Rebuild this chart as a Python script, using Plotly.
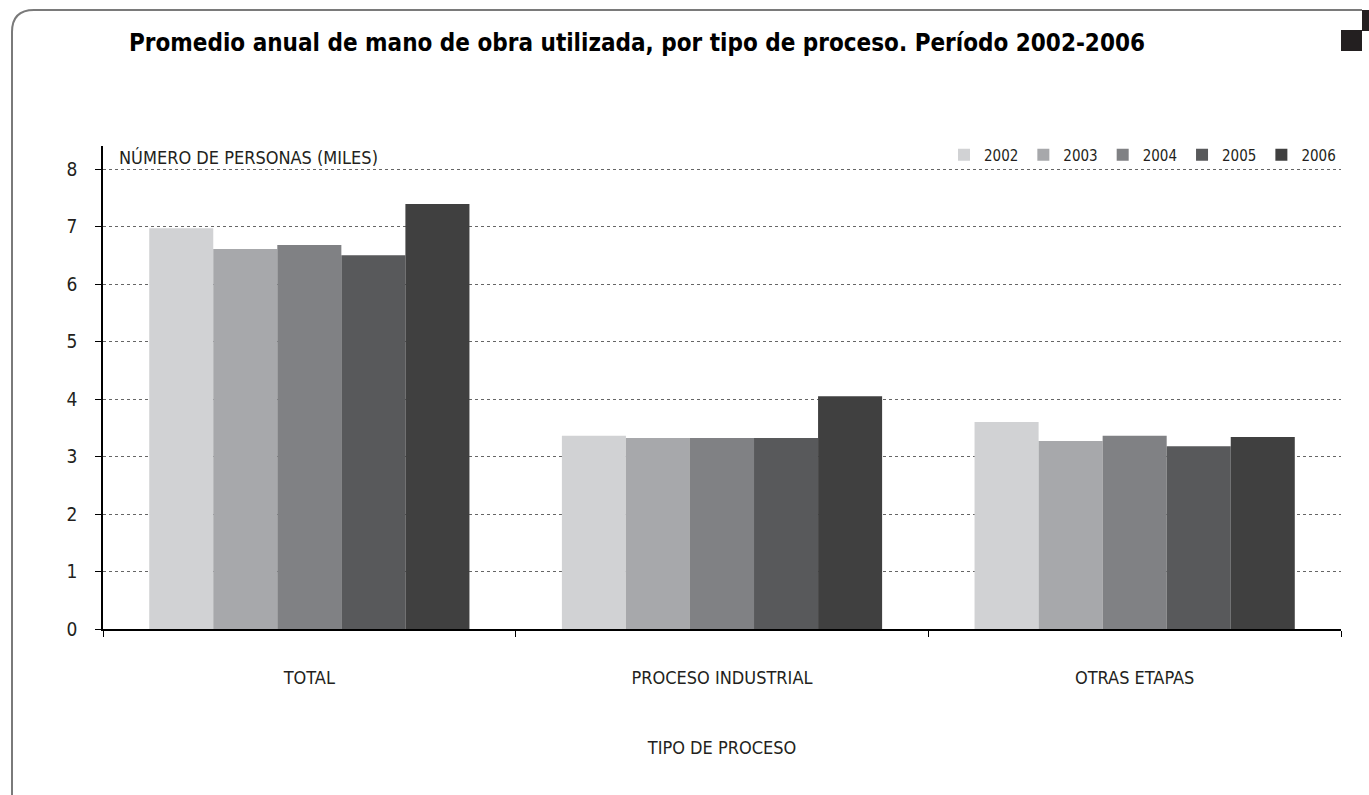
import plotly.graph_objects as go

# data
categories = ["TOTAL", "PROCESO INDUSTRIAL", "OTRAS ETAPAS"]
years = ["2002", "2003", "2004", "2005", "2006"]
values = {
    "2002": [6.97, 3.36, 3.60],
    "2003": [6.61, 3.32, 3.27],
    "2004": [6.68, 3.32, 3.36],
    "2005": [6.50, 3.32, 3.18],
    "2006": [7.39, 4.05, 3.34],
}
colors = ["#d1d2d4", "#a7a8ab", "#808184", "#58595b", "#404040"]

FONT = "Liberation Sans Narrow, DejaVu Sans Condensed, Arial Narrow, sans-serif"
W, H = 1369, 795
L, R, T, B = 103, 28, 146, 166


# page pixel -> paper coords (for the frame decoration)
def px(x):
    return (x - L) / (W - L - R)


def py(y):
    return (H - B - y) / (H - T - B)


fig = go.Figure()
for yr, col in zip(years, colors):
    fig.add_trace(go.Bar(name=yr, x=categories, y=values[yr], marker_color=col,
                         marker_line_width=0))

frame = (f"M {px(12)},{py(795)} L {px(12)},{py(32)} "
         f"Q {px(12)},{py(10)} {px(34)},{py(10)} L {px(1362)},{py(10)}")

fig.update_layout(
    width=W, height=H,
    margin=dict(l=L, r=R, t=T, b=B),
    paper_bgcolor="white", plot_bgcolor="white",
    barmode="group", bargap=0.224, bargroupgap=0,
    font=dict(family=FONT, size=18, color="#231f20"),
    title=dict(text="<b>Promedio anual de mano de obra utilizada, por tipo de proceso. Período 2002-2006</b>",
               x=637 / W, xref="container", xanchor="center", y=1 - 43 / H, yanchor="middle",
               font=dict(family=FONT, size=24, color="black")),
    legend=dict(orientation="h", x=1, xanchor="right", y=py(155), yanchor="middle",
                font=dict(size=15), traceorder="normal", itemwidth=30,
                bgcolor="rgba(0,0,0,0)"),
    showlegend=True,
    xaxis=dict(showline=True, linecolor="black", linewidth=1.5,
               ticks="outside", tickson="boundaries", ticklen=6, tickcolor="black",
               ticklabelstandoff=32,
               title=dict(text="TIPO DE PROCESO", standoff=54, font=dict(size=18))),
    yaxis=dict(range=[0, 8.4], dtick=1, showline=True, linecolor="black", linewidth=1.5,
               ticks="outside", ticklen=6, tickcolor="black", ticklabelstandoff=14,
               tickfont=dict(size=19),
               showgrid=True, gridcolor="#666", griddash="dot", gridwidth=1,
               zeroline=False),
    annotations=[dict(text="NÚMERO DE PERSONAS (MILES)", xref="paper", yref="paper",
                      x=px(117), y=py(157), xanchor="left", yanchor="middle",
                      showarrow=False, font=dict(size=18))],
    shapes=[
        dict(type="path", path=frame, xref="paper", yref="paper",
             line=dict(color="#7a7a7a", width=2), layer="above"),
        dict(type="rect", xref="paper", yref="paper", x0=px(1341), x1=px(1362),
             y0=py(51), y1=py(30), fillcolor="#231f20", line_width=0),
        dict(type="rect", xref="paper", yref="paper", x0=px(1362), x1=px(1369),
             y0=py(31), y1=py(10), fillcolor="#231f20", line_width=0),
    ],
)

# drop the default body margin so the figure sits at the page origin
fig.write_html("out.html", config={"displayModeBar": False},
               post_script="document.body.style.margin='0';")
